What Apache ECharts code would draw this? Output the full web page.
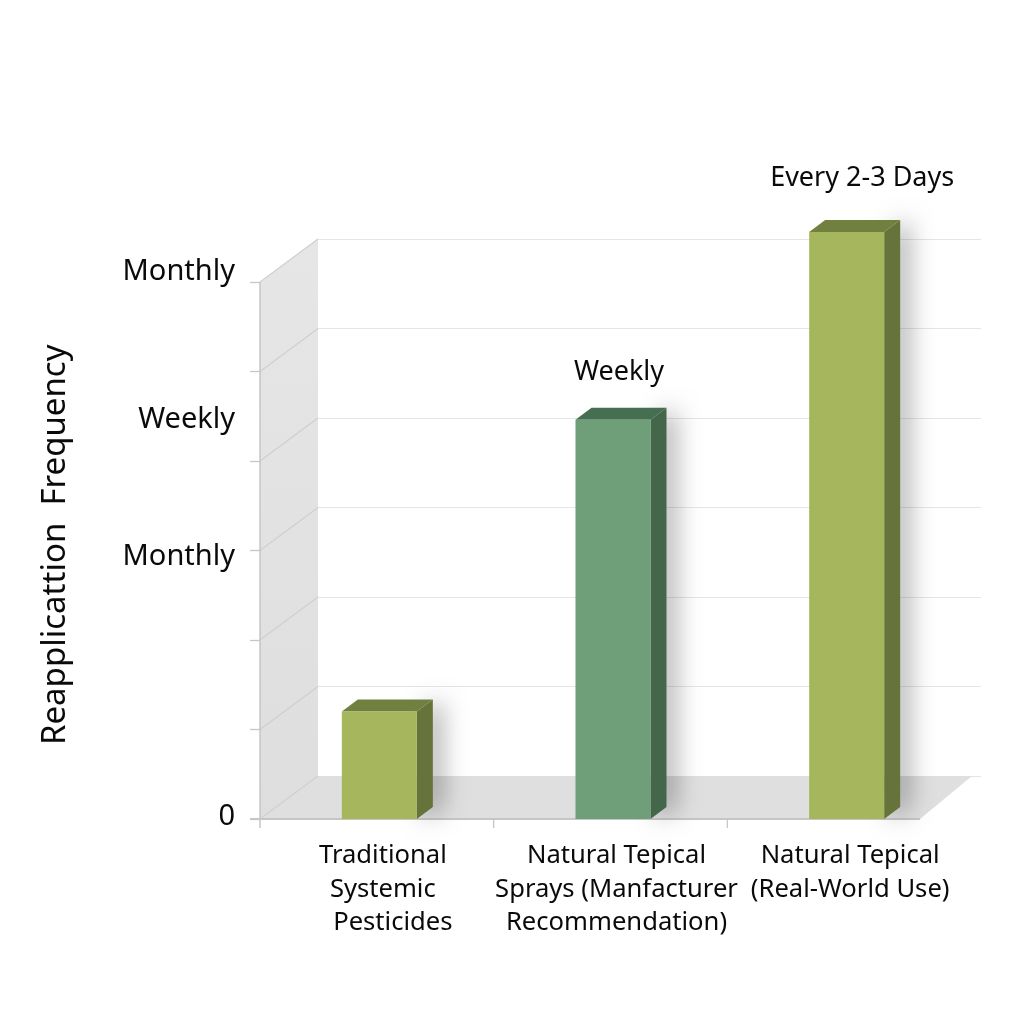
<!DOCTYPE html>
<html>
<head>
<meta charset="utf-8">
<style>html,body{margin:0;padding:0;background:#fff}#c{width:1024px;height:1024px}</style>
<script src="https://cdn.jsdelivr.net/npm/echarts@6/dist/echarts.min.js"></script>
</head>
<body>
<div id="c"></div>
<script>
const categories = ['Traditional\nSystemic\n   Pesticides', 'Natural Tepical\nSprays (Manfacturer\nRecommendation)', 'Natural Tepical\n(Real-World Use)'];
const values = [1.2, 4.46, 6.56];
const barLabels = ['', 'Weekly', 'Every 2-3 Days'];
const yLabelValues = [0.02, 2.93, 4.46, 6.11];
const yLabelTexts = ['0', 'Monthly', 'Weekly', 'Monthly'];
const yTicks = [0, 1, 2, 3, 4, 5, 6];
const yTitle = 'Reapplicattion  Frequency';

const FONT = '"Noto Sans"';
const DEPTH_X = 58, DEPTH_Y = 43, BAR_DX = 16, BAR_DY = 12, BAR_W = 75, FLOOR_W = 660;
const barColors = [
  ['#a6b65d', '#71803f', '#66733a'],
  ['#6f9f79', '#466e50', '#44664b'],
  ['#a6b65d', '#71803f', '#66733a']
];
const labelShift = [0, 8.5, 18];
const labelGap = [0, 49, 55];

function poly(points, style, z2) {
  return { type: 'polygon', shape: { points }, style, z2: z2 || 0 };
}
function line(x1, y1, x2, y2, stroke, w) {
  return { type: 'line', shape: { x1, y1, x2, y2 }, style: { stroke, lineWidth: w || 1.3 }, z2: 2 };
}

function renderRoom(params, api) {
  const L = params.coordSys.x;
  const y0 = api.coord([0, 0])[1];
  const yT = api.coord([0, 6])[1];
  const kids = [];
  kids.push(poly([[L, yT], [L + DEPTH_X, yT - DEPTH_Y], [L + DEPTH_X, y0 - DEPTH_Y], [L, y0]], {
    fill: new echarts.graphic.LinearGradient(0, 0, 0, 1, [{ offset: 0, color: '#e6e6e6' }, { offset: 1, color: '#dedede' }])
  }));
  kids.push(poly([[L, y0], [L + DEPTH_X, y0 - DEPTH_Y], [L + FLOOR_W + 52, y0 - DEPTH_Y], [L + FLOOR_W, y0]], { fill: '#dfdfdf' }));
  yTicks.forEach(v => {
    const y = api.coord([0, v])[1];
    kids.push(line(L, y, L + DEPTH_X, y - DEPTH_Y, '#cfcfcf', 1.1));
  });
  kids.push(line(L, yT, L, y0 + 9, '#c6c6c6', 1.5));
  kids.push(line(L - 10, y0, L + FLOOR_W, y0, '#c6c6c6', 1.8));
  const band = api.size([1, 0])[0];
  [1, 2].forEach(i => kids.push(line(L + band * i, y0, L + band * i, y0 + 9, '#c6c6c6', 1.3)));
  return { type: 'group', children: kids };
}

function renderBar(params, api) {
  const i = api.value(0);
  const c = api.coord([i, api.value(1)]);
  const y0 = api.coord([i, 0])[1];
  const x1 = c[0] + 2.5 - BAR_W / 2, x2 = x1 + BAR_W, yt = c[1];
  const col = barColors[i];
  const kids = [
    poly([[x2, yt], [x2 + BAR_DX, yt - BAR_DY], [x2 + BAR_DX, y0 - BAR_DY], [x2, y0]],
      { fill: col[2], shadowBlur: 24, shadowOffsetX: 8, shadowOffsetY: 0, shadowColor: 'rgba(0,0,0,0.38)' }),
    poly([[x1, yt], [x1 + BAR_DX, yt - BAR_DY], [x2 + BAR_DX, yt - BAR_DY], [x2, yt]], { fill: col[1] }, 1),
    { type: 'rect', shape: { x: x1, y: yt, width: BAR_W, height: y0 - yt }, style: { fill: col[0] }, z2: 1 }
  ];
  if (barLabels[i]) {
    kids.push({
      type: 'text', z2: 3,
      style: { text: barLabels[i], x: c[0] + labelShift[i], y: yt - labelGap[i] + 1.5, align: 'center', verticalAlign: 'middle',
        font: '27px ' + FONT, fill: '#0a0a0a' }
    });
  }
  return { type: 'group', children: kids };
}

const chart = echarts.init(document.getElementById('c'), null, { renderer: 'canvas' });
chart.setOption({
  animation: false,
  backgroundColor: '#ffffff',
  grid: [
    { left: 318, right: 43, top: 239, bottom: 248 },
    { left: 260, width: 701, top: 192.5, bottom: 205 }
  ],
  xAxis: [
    { gridIndex: 0, type: 'category', data: categories, show: false },
    { gridIndex: 1, type: 'category', data: categories,
      axisLine: { show: false }, axisTick: { show: false },
      axisLabel: { interval: 0, margin: 20, color: '#0a0a0a', fontFamily: FONT, fontSize: 25.6, lineHeight: 33.5, align: 'center', verticalAlign: 'top', padding: [0, 0, 0, 12] } }
  ],
  yAxis: [
    { gridIndex: 0, type: 'value', min: 0, max: 6, interval: 1,
      axisLine: { show: false }, axisTick: { show: false }, axisLabel: { show: false },
      splitLine: { show: true, lineStyle: { color: '#e5e5e5', width: 1.2 } } },
    { gridIndex: 1, type: 'value', min: 0, max: 7, interval: 1,
      name: yTitle, nameLocation: 'middle', nameGap: 188, nameRotate: 90, nameMoveOverlap: false,
      nameTextStyle: { color: '#0a0a0a', fontFamily: FONT, fontSize: 33, padding: [0, 78, 0, 0] },
      splitLine: { show: false },
      axisLine: { show: false },
      axisTick: { show: true, length: 10, customValues: yTicks, lineStyle: { color: '#c6c6c6', width: 1.3 } },
      axisLabel: { margin: 25, color: '#0a0a0a', fontFamily: FONT, fontSize: 29, customValues: yLabelValues,
        formatter: v => yLabelTexts[yLabelValues.indexOf(v)] } }
  ],
  series: [
    { type: 'custom', xAxisIndex: 1, yAxisIndex: 1, z: 1, silent: true, data: [[0, 0]], renderItem: renderRoom },
    { type: 'custom', xAxisIndex: 1, yAxisIndex: 1, z: 2, silent: true,
      data: values.map((v, i) => [i, v]), encode: { x: 0, y: 1 }, renderItem: renderBar }
  ]
});
</script>
</body>
</html>
